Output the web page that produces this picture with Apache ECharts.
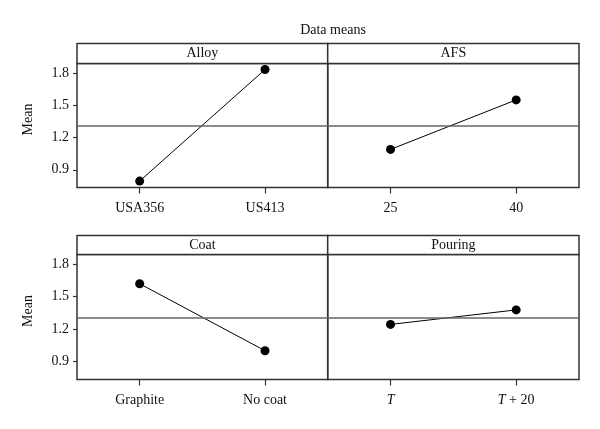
<!DOCTYPE html>
<html>
<head>
<meta charset="utf-8">
<script src="https://cdn.jsdelivr.net/npm/echarts@6/dist/echarts.min.js"></script>
<style>html,body{margin:0;padding:0;background:#fff}#c{width:600px;height:429px}</style>
</head>
<body>
<div id="c"></div>
<script>
const chartTitle = 'Data means';
const factors = ['Alloy', 'AFS', 'Coat', 'Pouring'];
const alloyLevels = ['USA356', 'US413'];
const alloyMeans = [0.795, 1.834];
const afsLevels = ['25', '40'];
const afsMeans = [1.09, 1.551];
const coatLevels = ['Graphite', 'No coat'];
const coatMeans = [1.62, 1.001];
const pouringLevels = ['T', 'T + 20'];
const pouringMeans = [1.244, 1.378];
const grandMean = 1.31;
const yTicks = [0.9, 1.2, 1.5, 1.8];
const yRange = [0.735, 1.89];

const levels = [alloyLevels, afsLevels, coatLevels, pouringLevels];
const means = [alloyMeans, afsMeans, coatMeans, pouringMeans];

// layout
const FONT = '"Liberation Serif", "DejaVu Serif", serif';
const L = 77, M = 327.7, R = 579;
const rows = [
  { stripTop: 43.5, plotTop: 63.5, plotBottom: 187.5 },
  { stripTop: 235.5, plotTop: 254.5, plotBottom: 379.5 }
];
const frameColor = '#333';
const refColor = '#666';

const grids = [], xAxes = [], yAxes = [], series = [], graphics = [];
for (let i = 0; i < 4; i++) {
  const r = rows[Math.floor(i / 2)];
  const left = i % 2 === 0 ? L : M;
  const width = i % 2 === 0 ? M - L : R - M;
  grids.push({
    left: left, top: r.plotTop, width: width, height: r.plotBottom - r.plotTop,
    show: true, borderColor: frameColor, borderWidth: 1.5, backgroundColor: 'transparent'
  });
  const italic = i === 3;
  xAxes.push({
    type: 'category', gridIndex: i, data: levels[i], boundaryGap: true,
    axisLine: { show: false },
    axisTick: { show: true, alignWithLabel: true, length: 6, lineStyle: { color: frameColor, width: 1.2 } },
    axisLabel: {
      margin: 14, color: '#111', fontFamily: FONT, fontSize: 14,
      formatter: italic ? (v => v.replace(/^T/, '{i|T}')) : null,
      rich: italic ? { i: { fontStyle: 'italic', fontFamily: FONT, fontSize: 14, color: '#111' } } : undefined
    },
    splitLine: { show: false }
  });
  const showY = i % 2 === 0;
  yAxes.push({
    type: 'value', gridIndex: i, min: yRange[0], max: yRange[1],
    name: showY ? 'Mean' : '', nameLocation: 'middle', nameGap: 42,
    nameTextStyle: { fontFamily: FONT, fontSize: 14, color: '#111', padding: [0, 0, 0, 12] },
    axisLine: { show: false },
    axisTick: { show: showY, length: 4, customValues: yTicks, lineStyle: { color: frameColor, width: 1.2 } },
    axisLabel: { show: showY, customValues: yTicks, margin: 8, color: '#111', fontFamily: FONT, fontSize: 14,
      formatter: v => v.toFixed(1) },
    splitLine: { show: false }
  });
  series.push({
    type: 'line', xAxisIndex: i, yAxisIndex: i, data: means[i],
    symbol: 'circle', symbolSize: 9, itemStyle: { color: '#000' },
    lineStyle: { color: '#000', width: 1 }, silent: true, animation: false,
    markLine: {
      silent: true, symbol: 'none', label: { show: false },
      lineStyle: { color: refColor, type: 'solid', width: 1.5 },
      data: [{ yAxis: grandMean }]
    }
  });
  graphics.push({
    type: 'rect', shape: { x: left, y: r.stripTop, width: width, height: r.plotTop - r.stripTop },
    style: { fill: '#fff', stroke: frameColor, lineWidth: 1.5 }, z: 10
  });
  graphics.push({
    type: 'text', x: left + width / 2, y: (r.stripTop + r.plotTop) / 2, z: 11,
    style: { text: factors[i], fill: '#111', font: '14px ' + FONT, textAlign: 'center', textVerticalAlign: 'middle' }
  });
}

const chart = echarts.init(document.getElementById('c'), null, { renderer: 'canvas' });
chart.setOption({
  animation: false,
  backgroundColor: '#fff',
  title: {
    text: chartTitle, left: (L + R) / 2, top: 18, textAlign: 'center',
    textStyle: { fontFamily: FONT, fontSize: 14, fontWeight: 'normal', color: '#111' }
  },
  grid: grids, xAxis: xAxes, yAxis: yAxes, series: series, graphic: graphics
});
</script>
</body>
</html>
